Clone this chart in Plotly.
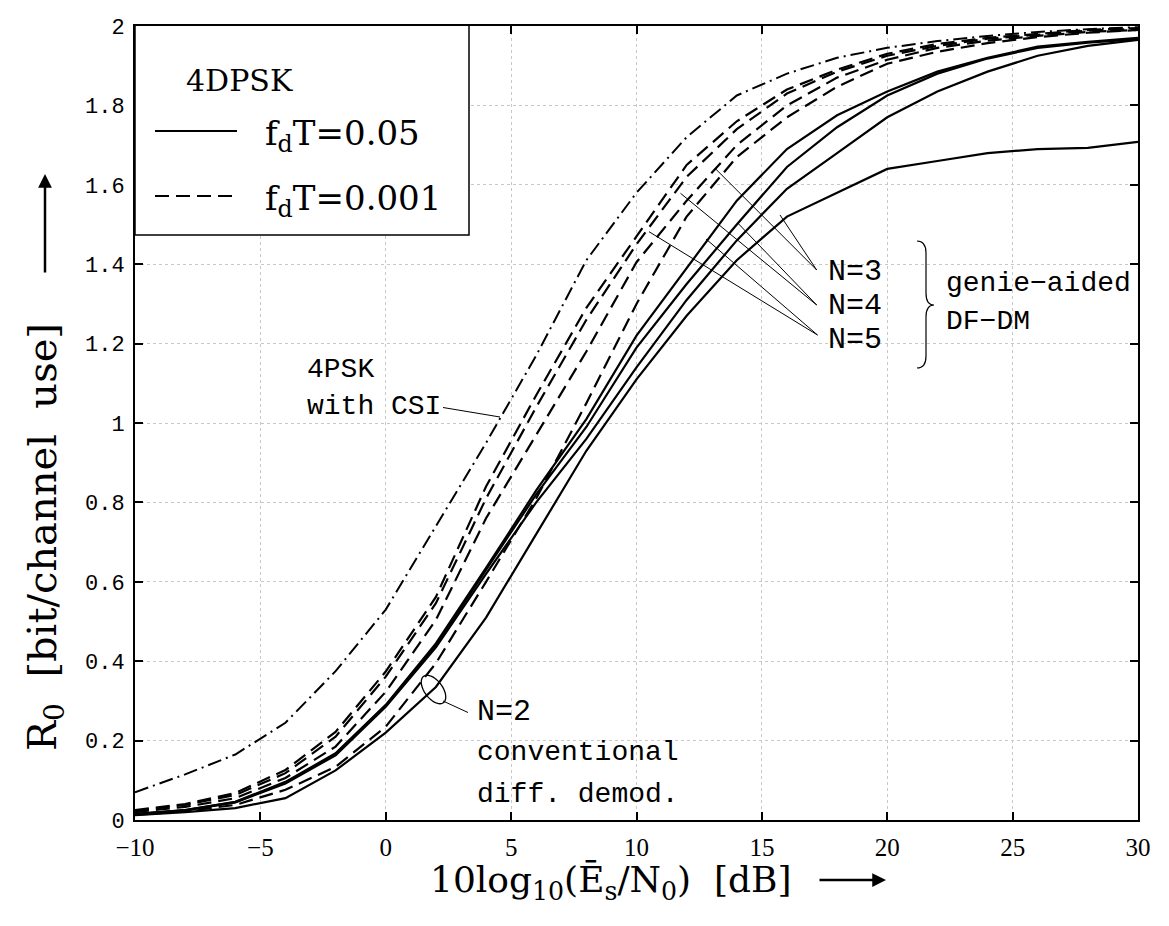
import math
import plotly.graph_objects as go

# ---------------- data ----------------
snr_db = [-10, -8, -6, -4, -2, 0, 2, 4, 6, 8, 10, 12, 14, 16, 18, 20, 22, 24, 26, 28, 30]

r0_csi = [0.07, 0.115, 0.165, 0.245, 0.375, 0.53, 0.74, 0.95, 1.17, 1.41, 1.58,
          1.72, 1.825, 1.88, 1.92, 1.945, 1.962, 1.975, 1.985, 1.992, 1.997]

r0_slow_n5 = [0.025, 0.04, 0.068, 0.126, 0.222, 0.374, 0.562, 0.84, 1.07, 1.29, 1.47,
              1.65, 1.76, 1.84, 1.89, 1.93, 1.955, 1.97, 1.98, 1.99, 1.995]
r0_slow_n4 = [0.023, 0.038, 0.063, 0.118, 0.21, 0.361, 0.546, 0.81, 1.04, 1.26, 1.45,
              1.62, 1.74, 1.83, 1.885, 1.925, 1.95, 1.968, 1.978, 1.988, 1.993]
r0_slow_n3 = [0.02, 0.033, 0.055, 0.106, 0.185, 0.323, 0.504, 0.76, 0.97, 1.18, 1.405,
              1.56, 1.7, 1.8, 1.87, 1.915, 1.945, 1.963, 1.975, 1.985, 1.99]
r0_slow_n2 = [0.013, 0.022, 0.038, 0.076, 0.134, 0.235, 0.395, 0.60, 0.81, 1.05, 1.3,
              1.52, 1.67, 1.77, 1.847, 1.905, 1.935, 1.957, 1.972, 1.983, 1.99]

r0_fast_n5 = [0.015, 0.025, 0.046, 0.096, 0.168, 0.29, 0.445, 0.635, 0.83, 1.01, 1.22,
              1.39, 1.56, 1.69, 1.775, 1.835, 1.885, 1.92, 1.948, 1.96, 1.97]
r0_fast_n4 = [0.015, 0.025, 0.045, 0.094, 0.166, 0.288, 0.44, 0.63, 0.82, 0.99, 1.19,
              1.35, 1.50, 1.645, 1.745, 1.825, 1.88, 1.918, 1.945, 1.958, 1.967]
r0_fast_n3 = [0.015, 0.024, 0.044, 0.092, 0.163, 0.285, 0.435, 0.62, 0.80, 0.96, 1.14,
              1.31, 1.46, 1.59, 1.68, 1.77, 1.835, 1.885, 1.925, 1.95, 1.965]
r0_fast_n2 = [0.012, 0.02, 0.03, 0.055, 0.125, 0.22, 0.335, 0.51, 0.72, 0.93, 1.11,
              1.27, 1.41, 1.52, 1.58, 1.64, 1.66, 1.68, 1.69, 1.693, 1.708]

x_ticks = [-10, -5, 0, 5, 10, 15, 20, 25, 30]
y_ticks = [0, 0.2, 0.4, 0.6, 0.8, 1, 1.2, 1.4, 1.6, 1.8, 2]

# ---------------- layout geometry ----------------
W, H = 1169, 926
ML, MR, MT, MB = 135, 31, 26, 106
PW, PH = W - ML - MR, H - MT - MB
XMIN, XMAX, YMIN, YMAX = -10, 30, 0, 2


def dx(px):
    return XMIN + (px - ML) / PW * (XMAX - XMIN)


def dy(py):
    return YMIN + (MT + PH - py) / PH * (YMAX - YMIN)


SOLID = dict(color="black", width=2.2)
DASH = dict(color="black", width=2.2, dash="14px,7px")
DASHDOT = dict(color="black", width=2.0, dash="14px,5px,2px,5px")

fig = go.Figure()
series = [
    ("4PSK with CSI", r0_csi, DASHDOT),
    ("N=5, fdT=0.001", r0_slow_n5, DASH),
    ("N=4, fdT=0.001", r0_slow_n4, DASH),
    ("N=3, fdT=0.001", r0_slow_n3, DASH),
    ("N=2, fdT=0.001", r0_slow_n2, DASH),
    ("N=5, fdT=0.05", r0_fast_n5, SOLID),
    ("N=4, fdT=0.05", r0_fast_n4, SOLID),
    ("N=3, fdT=0.05", r0_fast_n3, SOLID),
    ("N=2, fdT=0.05", r0_fast_n2, SOLID),
]
for name, ys, ln in series:
    fig.add_trace(go.Scatter(x=snr_db, y=ys, mode="lines", name=name,
                             line=ln, showlegend=False, cliponaxis=True))

MONO = "Liberation Mono, Courier New, monospace"
SERIF = "DejaVu Serif, serif"

shapes = []
annotations = []


def text(px, py, s, font, anchor="left"):
    annotations.append(dict(x=dx(px), y=dy(py), xref="x", yref="y", text=s,
                            showarrow=False, xanchor=anchor, yanchor="middle",
                            font=font))


def seg(p0, p1, width=1.0):
    shapes.append(dict(type="line", xref="x", yref="y", x0=dx(p0[0]), y0=dy(p0[1]),
                       x1=dx(p1[0]), y1=dy(p1[1]),
                       line=dict(color="black", width=width)))


# legend box (drawn by hand)
shapes.append(dict(type="rect", xref="x", yref="y", x0=dx(135), x1=dx(469),
                   y0=dy(235), y1=dy(25), line=dict(color="black", width=1.5),
                   fillcolor="white", layer="above"))
shapes.append(dict(type="line", xref="x", yref="y", x0=dx(155), x1=dx(237),
                   y0=dy(131), y1=dy(131), line=SOLID, layer="above"))
shapes.append(dict(type="line", xref="x", yref="y", x0=dx(155), x1=dx(237),
                   y0=dy(196), y1=dy(196), line=DASH, layer="above"))
text(184, 80, "4DPSK", dict(family=SERIF, size=30, color="black"))
text(263, 135, "f<sub>d</sub>T=0.05", dict(family=SERIF, size=34, color="black"))
text(263, 200, "f<sub>d</sub>T=0.001", dict(family=SERIF, size=34, color="black"))

# 4PSK with CSI label
ANN_FONT = dict(family=MONO, size=28, color="black")
text(305, 369, "4PSK", ANN_FONT)
text(305, 406, "with CSI", ANN_FONT)
seg((443, 407.5), (500, 417))

# N=3/4/5 labels and pointer lines
labels = [("N=3", 272, (816.7, 270), [(715, 168.3), (780, 215)]),
          ("N=4", 306, (816.7, 305), [(680.5, 193.3), (738, 223.3)]),
          ("N=5", 340, (817.5, 335), [(649, 231.7), (706, 239)])]
for txt, ty, start, ends in labels:
    text(826, ty, txt, dict(family=MONO, size=30, color="black"))
    for e in ends:
        seg(start, e)

# brace
bx0, bx1, bx2 = 917, 926, 934
byt, bym, byb = 241, 305, 368
path = (f"M {dx(bx0)},{dy(byt)} Q {dx(bx1)},{dy(byt)} {dx(bx1)},{dy(byt + 12)} "
        f"L {dx(bx1)},{dy(bym - 12)} Q {dx(bx1)},{dy(bym)} {dx(bx2)},{dy(bym)} "
        f"Q {dx(bx1)},{dy(bym)} {dx(bx1)},{dy(bym + 12)} "
        f"L {dx(bx1)},{dy(byb - 12)} Q {dx(bx1)},{dy(byb)} {dx(bx0)},{dy(byb)}")
shapes.append(dict(type="path", xref="x", yref="y", path=path,
                   line=dict(color="black", width=1.2)))
text(944, 283, "genie\u2212aided", ANN_FONT)
text(944, 321, "DF\u2212DM", ANN_FONT)

# N=2 ellipse and labels
cx, cy, ea, eb, th = 433.5, 689.5, 16.5, 9.0, math.radians(53)
pts = []
for k in range(49):
    t = 2 * math.pi * k / 48
    px = cx + ea * math.cos(t) * math.cos(th) - eb * math.sin(t) * math.sin(th)
    py = cy + ea * math.cos(t) * math.sin(th) + eb * math.sin(t) * math.cos(th)
    pts.append(f"{dx(px)},{dy(py)}")
shapes.append(dict(type="path", xref="x", yref="y", path="M " + " L ".join(pts) + " Z",
                   line=dict(color="black", width=1.3)))
seg((443, 701), (468, 712.5))
text(475, 712, "N=2", dict(family=MONO, size=30, color="black"))
text(475, 752, "conventional", ANN_FONT)
text(475, 794, "diff. demod.", ANN_FONT)

# axis titles with arrows (placed in paper coordinates of the plot area)


def px2paper(px, py):
    return (px - ML) / PW, (MT + PH - py) / PH


TITLE_FONT = dict(family=SERIF, size=36, color="black")
xt, yt = px2paper(428, 882)
annotations.append(dict(x=xt, y=yt, xref="paper", yref="paper",
                        text="10log<sub>10</sub>(\u0112<sub>s</sub>/N<sub>0</sub>)  [dB]",
                        showarrow=False, xanchor="left", yanchor="middle",
                        font=TITLE_FONT))
xt, yt = px2paper(45, 537)
annotations.append(dict(x=xt, y=yt, xref="paper", yref="paper",
                        text="R<sub>0</sub>  [bit/channel  use]", textangle=-90,
                        showarrow=False, xanchor="center", yanchor="middle",
                        font=dict(family=SERIF, size=40, color="black")))
xt, yt = px2paper(886, 880)
annotations.append(dict(x=xt, y=yt, xref="paper", yref="paper",
                        ax=-68, ay=0, axref="pixel", ayref="pixel", text="",
                        showarrow=True, arrowhead=2, arrowsize=1.1, arrowwidth=2.5,
                        arrowcolor="black"))
xt, yt = px2paper(45, 174)
annotations.append(dict(x=xt, y=yt, xref="paper", yref="paper",
                        ax=0, ay=100, axref="pixel", ayref="pixel", text="",
                        showarrow=True, arrowhead=2, arrowsize=1.1, arrowwidth=2.5,
                        arrowcolor="black"))

fig.update_layout(
    width=W, height=H,
    margin=dict(l=ML, r=MR, t=MT, b=MB),
    paper_bgcolor="white", plot_bgcolor="white",
    showlegend=False,
    shapes=shapes, annotations=annotations,
    xaxis=dict(range=[XMIN, XMAX], tickvals=x_ticks, ticks="inside", ticklen=8,
               tickwidth=1.5, tickcolor="black", showline=True, linecolor="black",
               linewidth=2, mirror="ticks", showgrid=True, gridcolor="#c8c8c8",
               griddash="dot", gridwidth=1, zeroline=False, ticklabelstandoff=4,
               tickfont=dict(family="Liberation Serif, serif", size=25, color="black")),
    yaxis=dict(range=[YMIN, YMAX], tickvals=y_ticks, ticks="inside", ticklen=8,
               tickwidth=1.5, tickcolor="black", showline=True, linecolor="black",
               linewidth=2, mirror="ticks", showgrid=True, gridcolor="#c8c8c8",
               griddash="dot", gridwidth=1, zeroline=False, ticklabelstandoff=4,
               tickfont=dict(family=MONO, size=22, color="black")),
)

fig.write_html("out.html")
